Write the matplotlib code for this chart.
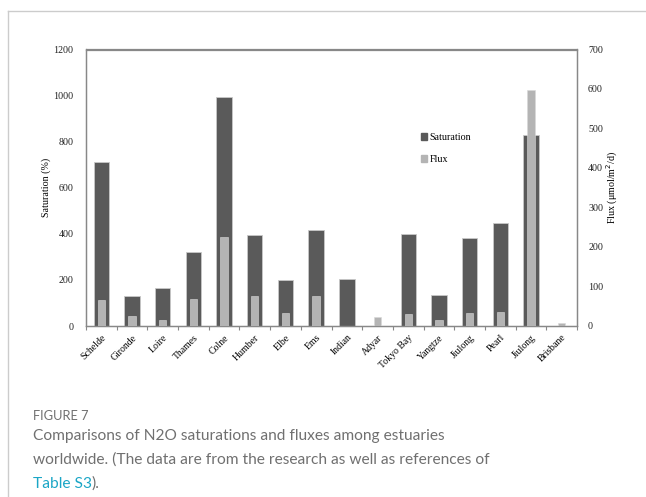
import numpy as np
import matplotlib.pyplot as plt
from matplotlib.patches import Patch
from matplotlib.lines import Line2D

# datos
estuarios = ['Schelde', 'Gironde', 'Loire', 'Thames', 'Colne', 'Humber', 'Elbe', 'Ems',
             'Indian', 'Adyar', 'Tokyo Bay', 'Yangtze', 'Jiulong', 'Pearl', 'Jiulong', 'Brisbane']
saturacion = [710, 130, 166, 321, 994, 396, 201, 418, 203, 0, 399, 134, 381, 448, 829, 0]
flujo = [67, 25, 14, 69, 226, 77, 34, 77, 1, 23, 30, 15, 32, 36, 598, 8]

oscuro = '#5a5a5a'
claro = '#b4b4b4'
serif = 'Liberation Serif'

fig = plt.figure(figsize=(6.46, 4.97), dpi=100)

# marco de la tarjeta
fig.add_artist(Line2D([8/646, 8/646], [0, 1 - 11/497], color='#cccccc', lw=1))
fig.add_artist(Line2D([8/646, 1], [1 - 11/497, 1 - 11/497], color='#cccccc', lw=1))

ax = fig.add_axes([86/646, 1 - 326/497, (577 - 86)/646, (326 - 49.5)/497])
ax2 = ax.twinx()

x = np.arange(len(estuarios))
ax.bar(x, saturacion, width=0.5, color=oscuro, edgecolor='#c8c8c8', linewidth=0.6, zorder=2)
ax2.bar(x, flujo, width=0.24, color=claro, edgecolor='#d8d8d8', linewidth=0.4, zorder=3)

ax.set_xlim(-0.5, len(estuarios) - 0.5)
ax.set_ylim(0, 1200)
ax2.set_ylim(0, 700)
ax.set_yticks(range(0, 1201, 200))
ax2.set_yticks(range(0, 701, 100))

ax.set_xticks(x)
ax.set_xticklabels(estuarios, rotation=45, ha='right', rotation_mode='anchor',
                   fontsize=7, family=serif)
ax.set_xticks(np.arange(-0.5, len(estuarios)), minor=True)
ax.tick_params(axis='x', which='major', length=0, pad=5)
ax.tick_params(axis='x', which='minor', length=3, color='#888888', width=0.8)
ax.tick_params(axis='y', length=0, pad=9, labelsize=7.2)
ax2.tick_params(axis='y', length=0, pad=8, labelsize=7.2)
for lab in ax.get_yticklabels() + ax2.get_yticklabels():
    lab.set_family(serif)
    lab.set_color('#222222')

for a in (ax, ax2):
    for s in a.spines.values():
        s.set_color('#888888')
        s.set_linewidth(0.9)

ax.set_ylabel('Saturation (%)', family=serif, fontsize=7.2, labelpad=2)
ax2.set_ylabel('Flux (μmol/m$^2$/d)', family=serif, fontsize=7.2, labelpad=1)

handles = [Patch(color=oscuro, label='Saturation'), Patch(color=claro, label='Flux')]
ax2.legend(handles=handles, loc='center left', bbox_to_anchor=(0.682, 0.642), frameon=False,
           prop={'family': serif, 'size': 7.2}, handlelength=0.6, handleheight=0.6,
           handletextpad=0.25, labelspacing=1.3, borderpad=0, borderaxespad=0)

# pie de figura
gris = '#707070'
fig.text(33/646, 1 - 416/497, 'FIGURE 7', fontsize=9.3, color=gris, family='Lato', va='center')
fig.text(33/646, 1 - 436/497, 'Comparisons of N2O saturations and fluxes among estuaries',
         fontsize=11.2, color=gris, family='Lato', va='center')
fig.text(33/646, 1 - 460/497, 'worldwide. (The data are from the research as well as references of',
         fontsize=11.2, color=gris, family='Lato', va='center')
t = fig.text(33/646, 1 - 484/497, 'Table S3', fontsize=11.2, color='#1ba6c6', family='Lato', va='center')
fig.canvas.draw()
bb = t.get_window_extent()
fig.text(bb.x1 / fig.bbox.width, 1 - 484/497, ').', fontsize=11.2, color=gris,
         family='Lato', va='center')

fig.savefig('out.png', dpi=100)
